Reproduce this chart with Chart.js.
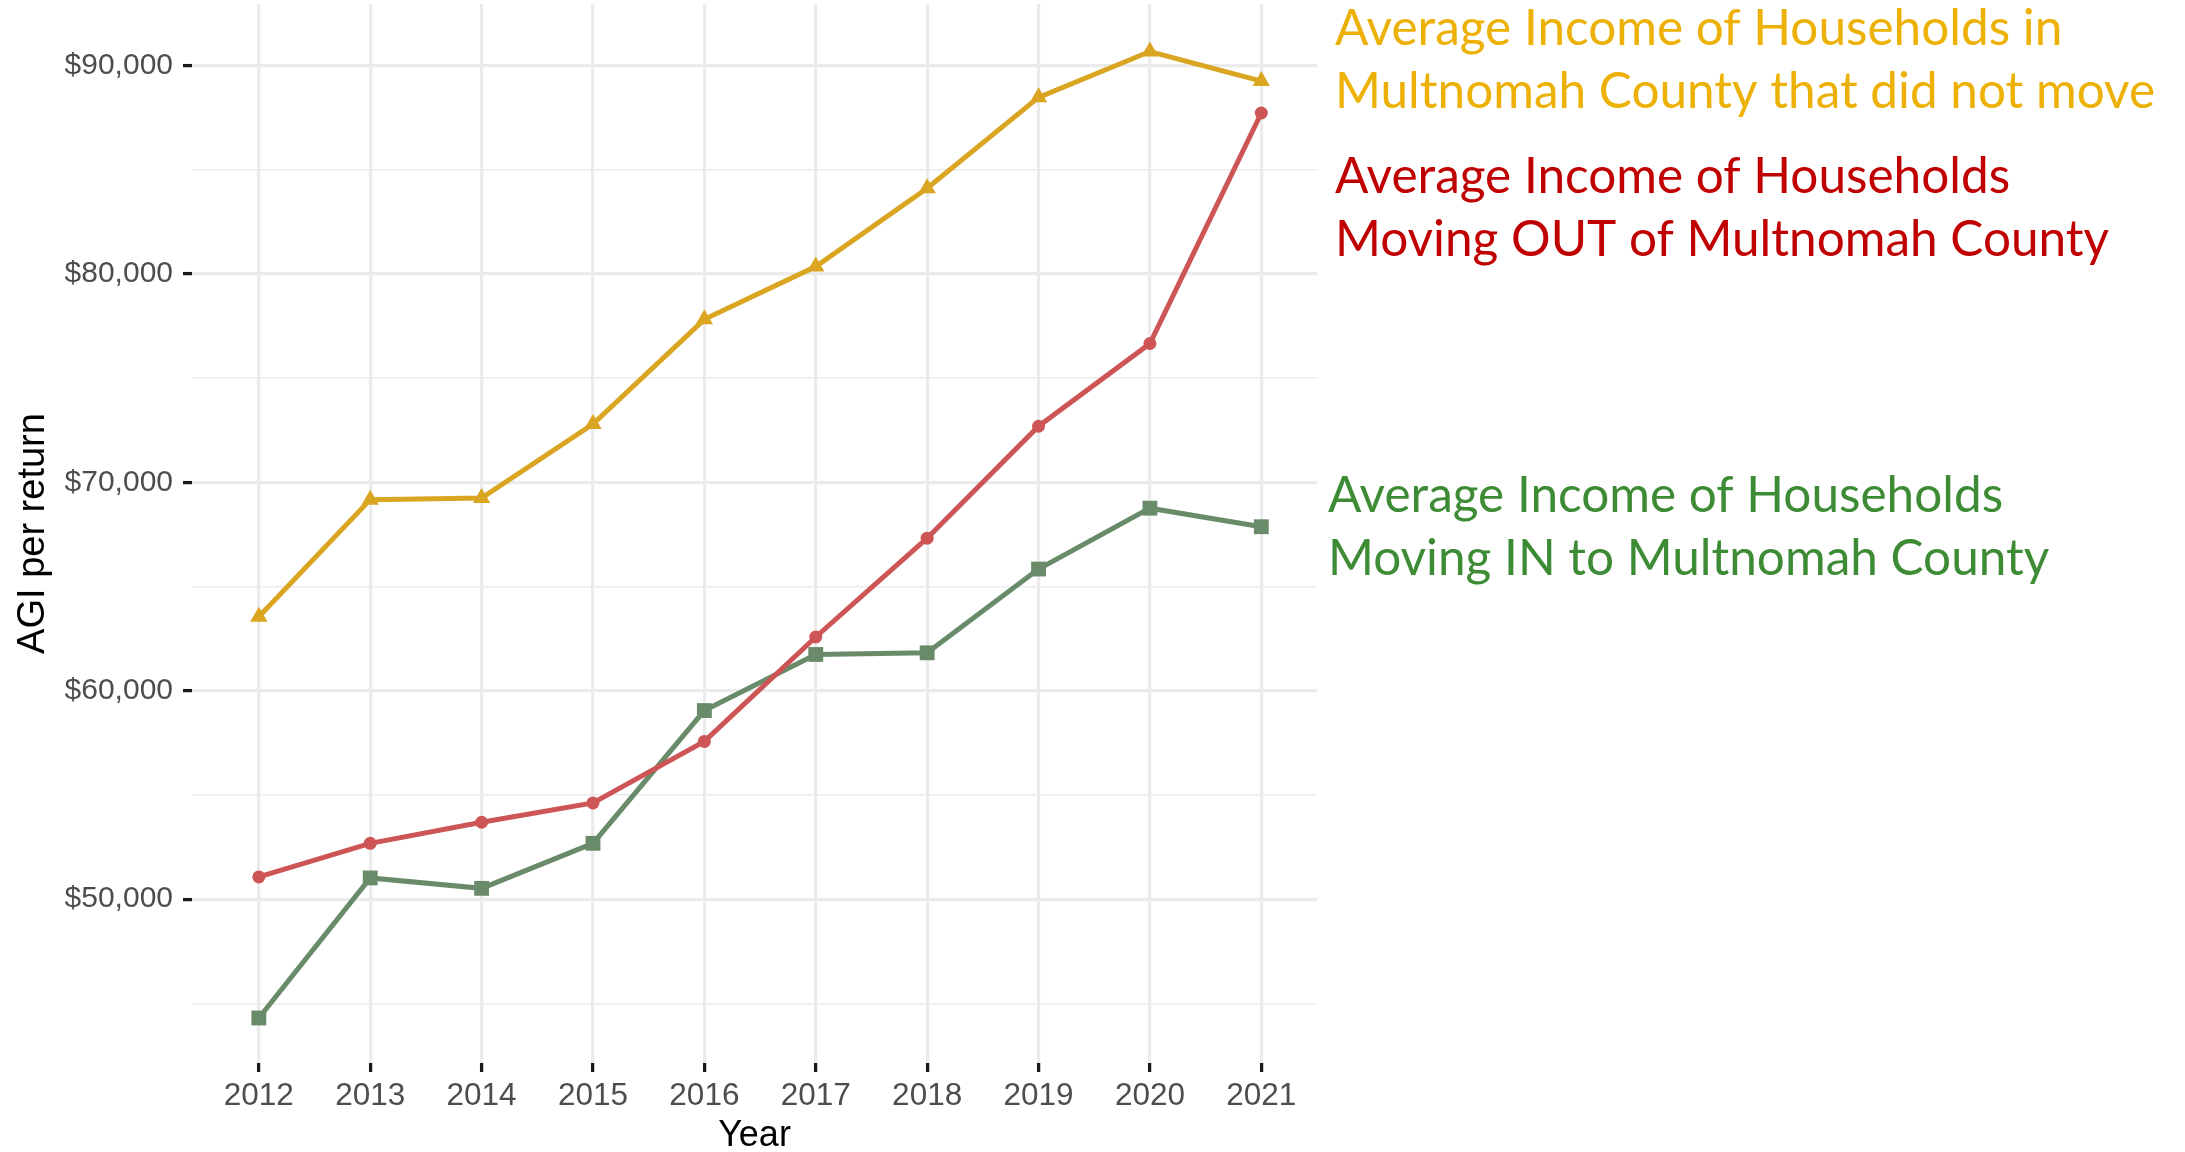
<!DOCTYPE html>
<html>
<head>
<meta charset="utf-8">
<script src="https://cdn.jsdelivr.net/npm/chart.js@4.4.0/dist/chart.umd.min.js"></script>
<style>
  html, body { margin: 0; padding: 0; background: #fff; }
</style>
</head>
<body>
<canvas id="myChart" width="2185" height="1152"></canvas>
<script>
// data
const years = [2012, 2013, 2014, 2015, 2016, 2017, 2018, 2019, 2020, 2021];
const stayed   = [63550, 69170, 69250, 72800, 77820, 80350, 84110, 88470, 90670, 89250];
const movedOut = [51070, 52680, 53690, 54620, 57570, 62580, 67320, 72690, 76660, 87720];
const movedIn  = [44300, 51020, 50520, 52680, 59050, 61740, 61820, 65840, 68760, 67870];
const yTicks = [45000, 50000, 55000, 60000, 65000, 70000, 75000, 80000, 85000, 90000];
const yMajor = [50000, 60000, 70000, 80000, 90000];

const notes = [
    {color: '#EDB105', dx: 18, y: 45, lines: ['Average Income of Households in', 'Multnomah County that did not move']},
    {color: '#C00000', dx: 18, y: 193, lines: ['Average Income of Households', 'Moving OUT of Multnomah County']},
    {color: '#3D8C35', dx: 11, y: 512, lines: ['Average Income of Households', 'Moving IN to Multnomah County']}
];

const notePlugin = {
    id: 'notes',
    afterDraw(chart) {
        const ctx = chart.ctx;
        const right = chart.chartArea.right;
        ctx.save();
        ctx.font = '49.5px Lato';
        ctx.textAlign = 'left';
        ctx.textBaseline = 'alphabetic';
        notes.forEach(n => {
            ctx.fillStyle = n.color;
            n.lines.forEach((t, i) => ctx.fillText(t, right + n.dx, n.y + i * 63));
        });
        ctx.restore();
    }
};

function pts(arr) {
    return arr.map((v, i) => ({x: years[i], y: v}));
}

function noPad(s) {
    s.paddingTop = 0;
    s.paddingBottom = 0;
    s.paddingLeft = 0;
    s.paddingRight = 0;
}

new Chart(document.getElementById('myChart'), {
    type: 'line',
    data: {
        datasets: [{
            label: 'did not move',
            data: pts(stayed),
            borderColor: '#DAA520',
            backgroundColor: '#DAA520',
            borderWidth: 5,
            pointStyle: 'triangle',
            pointRadius: 10,
            pointBorderWidth: 0
        }, {
            label: 'moving out',
            data: pts(movedOut),
            borderColor: '#CD5555',
            backgroundColor: '#CD5555',
            borderWidth: 5,
            pointStyle: 'circle',
            pointRadius: 6.5,
            pointBorderWidth: 0
        }, {
            label: 'moving in',
            data: pts(movedIn),
            borderColor: '#698B69',
            backgroundColor: '#698B69',
            borderWidth: 5,
            pointStyle: 'rect',
            pointRadius: 10.5,
            pointBorderWidth: 0
        }]
    },
    options: {
        responsive: false,
        animation: false,
        devicePixelRatio: 1,
        layout: {autoPadding: false, padding: {left: 0, top: 4, right: 868, bottom: 0}},
        plugins: {
            legend: {display: false},
            tooltip: {enabled: false}
        },
        scales: {
            x: {
                type: 'linear',
                min: 2011.4,
                max: 2021.5,
                afterBuildTicks: s => { s.ticks = years.map(v => ({value: v})); },
                afterFit: s => { s.height = 89; noPad(s); },
                border: {display: false},
                grid: {
                    color: '#EBEBEB',
                    lineWidth: 3.2,
                    tickLength: 9,
                    tickWidth: 3.3,
                    tickColor: '#1A1A1A'
                },
                ticks: {
                    padding: 5,
                    color: '#4D4D4D',
                    font: {family: 'Liberation Sans', size: 31.5},
                    maxRotation: 0,
                    autoSkip: false,
                    callback: v => String(v)
                },
                title: {
                    display: true,
                    text: 'Year',
                    color: '#000',
                    font: {family: 'Liberation Sans', size: 36, lineHeight: 0.9},
                    padding: {top: 0, bottom: 0}
                }
            },
            y: {
                min: 42140,
                max: 92950,
                afterBuildTicks: s => { s.ticks = yTicks.map(v => ({value: v})); },
                afterFit: s => { s.width = 192; noPad(s); },
                border: {display: false},
                grid: {
                    color: '#EBEBEB',
                    lineWidth: c => yMajor.includes(c.tick.value) ? 3.2 : 1.6,
                    tickLength: 9,
                    tickWidth: 3.3,
                    tickColor: c => yMajor.includes(c.tick.value) ? '#1A1A1A' : 'rgba(0,0,0,0)'
                },
                ticks: {
                    padding: 10,
                    color: '#4D4D4D',
                    font: {family: 'Liberation Sans', size: 30},
                    autoSkip: false,
                    callback: v => yMajor.includes(v) ? '$' + v.toLocaleString('en-US') : ''
                },
                title: {
                    display: true,
                    text: 'AGI per return',
                    color: '#000',
                    font: {family: 'Liberation Sans', size: 38, lineHeight: 1},
                    padding: {top: 15, bottom: 0}
                }
            }
        }
    },
    plugins: [notePlugin]
});
</script>
</body>
</html>
